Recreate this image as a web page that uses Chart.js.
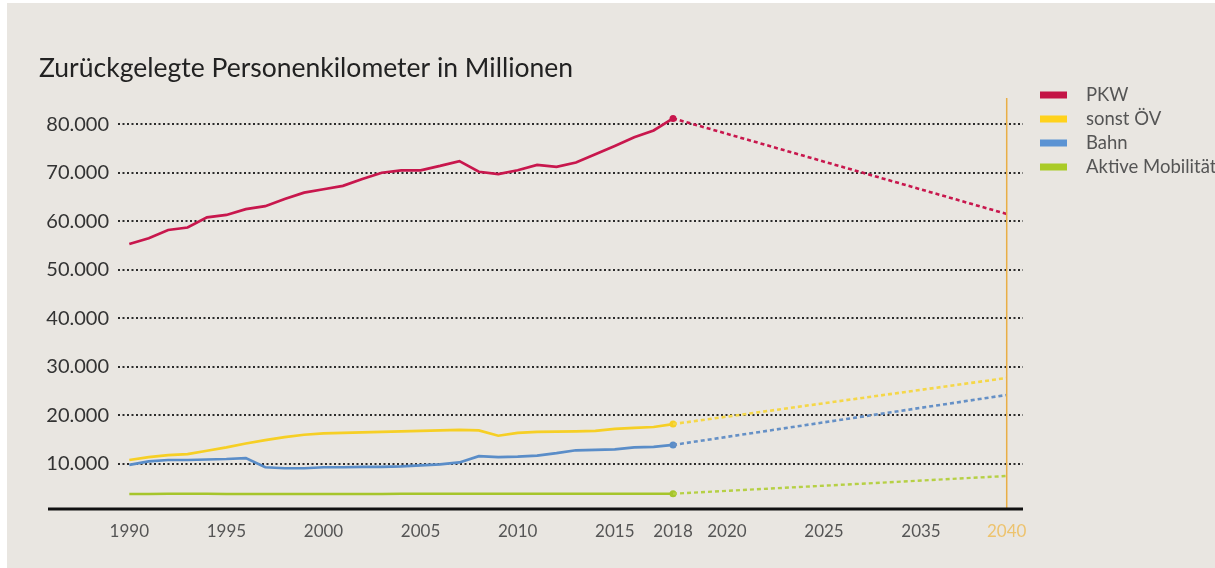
<!DOCTYPE html>
<html><head><meta charset="utf-8">
<script src="https://cdn.jsdelivr.net/npm/chart.js@4.4.1/dist/chart.umd.min.js"></script>
<style>
html,body{margin:0;padding:0;background:#fff;width:1215px;height:568px;overflow:hidden}
#bg{position:absolute;left:7px;top:3px;width:1208px;height:565px;background:#E9E6E1}
#wrap{position:absolute;left:0;top:0;width:1215px;height:568px}
</style></head>
<body><div id="bg"></div><div id="wrap"><canvas id="c" width="1215" height="568"></canvas></div>
<script>
// ---- data ----
const years = [1990,1991,1992,1993,1994,1995,1996,1997,1998,1999,2000,2001,2002,2003,2004,2005,2006,2007,2008,2009,2010,2011,2012,2013,2014,2015,2016,2017,2018];
const pkw   = [55300,56500,58200,58700,60800,61300,62500,63100,64600,65900,66600,67300,68700,70000,70500,70500,71400,72400,70200,69700,70500,71600,71200,72100,73800,75500,77300,78700,81200];
const oev   = [10800,11400,11800,12000,12700,13400,14200,14900,15500,16000,16300,16400,16500,16600,16700,16800,16900,17000,16900,15800,16400,16600,16650,16700,16800,17200,17400,17600,18200];
const bahn  = [9800,10500,10800,10800,10900,11000,11200,9300,9100,9100,9300,9300,9400,9400,9500,9700,9900,10300,11600,11400,11500,11700,12200,12800,12900,13000,13400,13500,13900];
const aktiv = [3800,3800,3850,3850,3850,3800,3800,3800,3800,3800,3800,3800,3800,3800,3850,3850,3850,3850,3850,3850,3850,3850,3850,3850,3850,3850,3850,3850,3850];
const projYears = [2018, 2040];
const pkwProj   = [81200, 61500];
const oevProj   = [18200, 27700];
const bahnProj  = [13900, 24200];
const aktivProj = [3850, 7500];
const targetYear = 2040;
const targetLine = [0, 85400];
const seriesNames = ['PKW', 'sonst ÖV', 'Bahn', 'Aktive Mobilität'];
const xTickYears = [1990,1995,2000,2005,2010,2015,2018,2020,2025,2035,2040];
const yTickValues = [10000,20000,30000,40000,50000,60000,70000,80000];
const titleText = 'Zurückgelegte Personenkilometer in Millionen';

// ---- axis design: the time axis is compressed after 2018 ----
const axisBreakYears = [1990, 2018, 2020, 2025, 2035, 2040];
const axisBreakAt    = [0.0125, 0.6133, 0.6729, 0.7801, 0.8873, 0.9820];

class BrokenYearScale extends Chart.LinearScale {
  getPixelForValue(value) {
    const ys = axisBreakYears, at = axisBreakAt;
    let i = 0;
    while (i < ys.length - 2 && value > ys[i + 1]) i++;
    const f = at[i] + (value - ys[i]) / (ys[i + 1] - ys[i]) * (at[i + 1] - at[i]);
    return this.getPixelForDecimal(f);
  }
  getValueForPixel(pixel) {
    const d = this.getDecimalForPixel(pixel);
    const ys = axisBreakYears, at = axisBreakAt;
    let i = 0;
    while (i < at.length - 2 && d > at[i + 1]) i++;
    return ys[i] + (d - at[i]) / (at[i + 1] - at[i]) * (ys[i + 1] - ys[i]);
  }
}
BrokenYearScale.id = 'brokenYear';
BrokenYearScale.defaults = Chart.LinearScale.defaults;
Chart.register(BrokenYearScale);

const colors = {
  pkw: '#C8174D', oev: '#F6CF25', bahn: '#5A8DC8', aktiv: '#A6C52B'
};
const projColors = {
  pkw: '#C8174D', oev: '#F5D748', bahn: '#6590C6', aktiv: '#B6D044'
};
const legendColors = ['#C41446', '#FFD21C', '#5B93D3', '#AACB27'];

const pts = (xs, vs) => xs.map((x, i) => ({x, y: vs[i]}));
const lastPointOnly = (r) => (ctx) => ctx.dataIndex === years.length - 1 ? r : 0;

function hist(label, vals, color, w) {
  return {
    label, data: pts(years, vals), borderColor: color, backgroundColor: color,
    borderWidth: w, pointRadius: lastPointOnly(3.5), pointHoverRadius: 0,
    pointBorderWidth: 0, tension: 0, fill: false
  };
}
function proj(label, vals, color, w) {
  return {
    label, data: pts(projYears, vals), borderColor: color, backgroundColor: color,
    borderWidth: w, borderDash: [4, 3], pointRadius: 0, tension: 0, fill: false
  };
}

const datasets = [
  {label: 'Ziel', data: targetLine.map(v => ({x: targetYear, y: v})), borderColor: '#E9AE45',
   borderWidth: 1.5, pointRadius: 0, fill: false},
  proj(seriesNames[3] + ' Prognose', aktivProj, projColors.aktiv, 2.4),
  proj(seriesNames[2] + ' Prognose', bahnProj, projColors.bahn, 2.6),
  proj(seriesNames[1] + ' Prognose', oevProj, projColors.oev, 2.6),
  proj(seriesNames[0] + ' Prognose', pkwProj, projColors.pkw, 2.6),
  hist(seriesNames[3], aktiv, colors.aktiv, 2.4),
  hist(seriesNames[2], bahn, colors.bahn, 2.7),
  hist(seriesNames[1], oev, colors.oev, 2.7),
  hist(seriesNames[0], pkw, colors.pkw, 2.7)
];

const axisLinePlugin = {
  id: 'axisLine',
  afterDatasetsDraw(chart) {
    const {ctx, chartArea} = chart;
    ctx.save();
    ctx.strokeStyle = '#111';
    ctx.lineWidth = 3;
    ctx.beginPath();
    ctx.moveTo(48, chartArea.bottom);
    ctx.lineTo(chartArea.right, chartArea.bottom);
    ctx.stroke();
    ctx.restore();
  }
};

const sideLegendPlugin = {
  id: 'sideLegend',
  afterDraw(chart) {
    const {ctx, chartArea} = chart;
    ctx.save();
    ctx.font = '18.5px Lato';
    ctx.textBaseline = 'middle';
    ctx.textAlign = 'left';
    const x0 = chartArea.right + 17;
    seriesNames.forEach((name, i) => {
      const y = 95 + i * 24;
      ctx.fillStyle = legendColors[i];
      ctx.fillRect(x0, y - 3.5, 27, 7);
      ctx.fillStyle = '#555';
      ctx.fillText(name, x0 + 46, y);
    });
    ctx.restore();
  }
};

function fmtThousands(v) {
  const k = Math.floor(v / 1000), r = v % 1000;
  return k + '.' + String(r).padStart(3, '0');
}

function build() {
  new Chart(document.getElementById('c'), {
    type: 'line',
    data: {datasets},
    options: {
      responsive: false, animation: false,
      layout: {padding: {left: 39, right: 192, top: 0, bottom: 0}},
      plugins: {
        legend: {display: false},
        tooltip: {enabled: false},
        title: {
          display: true, text: titleText, align: 'start', color: '#222',
          font: {family: 'Lato', size: 26.5, weight: 'normal', lineHeight: 1},
          padding: {top: 55, bottom: 0}
        }
      },
      scales: {
        x: {
          type: 'brokenYear', min: 1989, max: 2041,
          grid: {display: false, drawTicks: false},
          border: {display: false},
          afterBuildTicks: (s) => { s.ticks = xTickYears.map(v => ({value: v})); },
          afterFit: (s) => { s.height = 59; },
          ticks: {
            autoSkip: false, maxRotation: 0, padding: 12,
            font: {family: 'Lato', size: 17},
            color: (c) => c.tick && c.tick.value === targetYear ? '#EDC36E' : '#555',
            callback: (v) => String(v)
          }
        },
        y: {
          min: 700, max: 88800,
          afterBuildTicks: (s) => { s.ticks = yTickValues.map(v => ({value: v})); },
          afterFit: (s) => { s.width = 79; },
          grid: {color: '#2b2b2b', lineWidth: 2, drawTicks: false},
          border: {display: false, dash: [2, 2.5]},
          ticks: {
            padding: 9, font: {family: 'Lato', size: 20}, color: '#333',
            callback: (v) => fmtThousands(v)
          }
        }
      }
    },
    plugins: [axisLinePlugin, sideLegendPlugin]
  });
}

if (document.fonts && document.fonts.load) {
  Promise.all([document.fonts.load('26px Lato'), document.fonts.load('17px Lato')]).then(build, build);
} else { build(); }
</script>
</body></html>
